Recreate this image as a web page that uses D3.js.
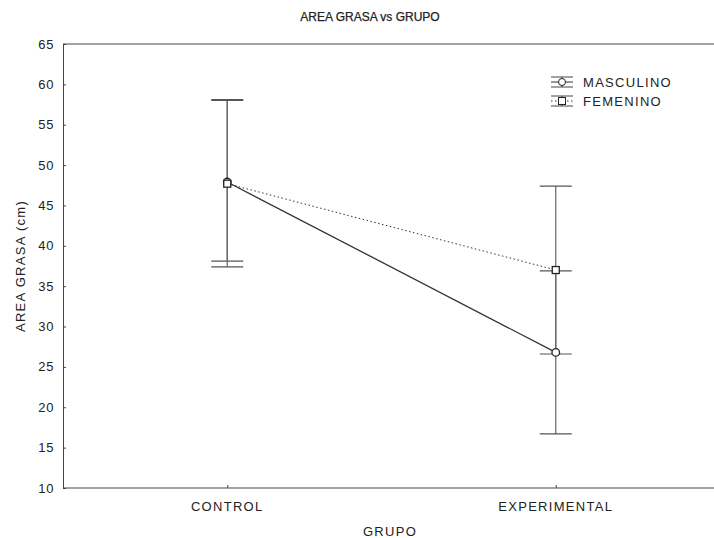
<!DOCTYPE html>
<html>
<head>
<meta charset="utf-8">
<script src="https://cdn.jsdelivr.net/npm/d3@7"></script>
<style>
  body { margin: 0; background: #fff; }
  text { font-family: "Liberation Sans", Arial, sans-serif; fill: #222; }
</style>
</head>
<body>
<svg width="714" height="538"></svg>
<script>
const groups = ["CONTROL", "EXPERIMENTAL"];
const yTicks = [10, 15, 20, 25, 30, 35, 40, 45, 50, 55, 60, 65];

// means and error bar ends
const mascMean = [47.9, 26.8];
const mascLow = [38.1, 16.7];
const mascHigh = [58.1, 36.9];

const femMean = [47.7, 37.0];
const femLow = [37.4, 26.6];
const femHigh = [58.0, 47.4];

const svg = d3.select("svg");
const margin = { left: 63, top: 44, bottom: 488, right: 720 };

const x = d3.scaleLinear().domain([0.5, 2.5]).range([margin.left, margin.right]);
const y = d3.scaleLinear().domain([10, 65]).range([margin.bottom, margin.top]);

const series = [
  { name: "MASCULINO", mean: mascMean, low: mascLow, high: mascHigh, dash: null, shape: "circle" },
  { name: "FEMENINO", mean: femMean, low: femLow, high: femHigh, dash: "1.5,2.5", shape: "square" }
];

// Title
svg.append("text")
  .attr("x", 370).attr("y", 21)
  .attr("text-anchor", "middle")
  .attr("font-size", 12)
  .attr("stroke", "#222").attr("stroke-width", 0.25)
  .text("AREA GRASA vs GRUPO");

// top frame line
svg.append("line")
  .attr("x1", margin.left).attr("x2", 714)
  .attr("y1", margin.top).attr("y2", margin.top)
  .attr("stroke", "#444").attr("stroke-width", 1);

// Y axis (ticks pointing inward)
const yAxis = svg.append("g")
  .attr("transform", `translate(${margin.left},0)`)
  .call(d3.axisRight(y).tickValues(yTicks).tickSize(3).tickFormat(""));
yAxis.select(".domain").attr("stroke", "#444");
yAxis.selectAll(".tick line").attr("stroke", "#444");

svg.append("g").selectAll("text")
  .data(yTicks)
  .join("text")
  .attr("x", margin.left - 9)
  .attr("y", d => y(d) + 4.5)
  .attr("text-anchor", "end")
  .attr("font-size", 13)
  .attr("letter-spacing", 0.6)
  .text(d => d);

// X axis
const xAxis = svg.append("g")
  .attr("transform", `translate(0,${margin.bottom})`)
  .call(d3.axisTop(x).tickValues([1, 2]).tickSize(3).tickFormat("").tickSizeOuter(0));
xAxis.select(".domain").attr("stroke", "#444").attr("d", `M${margin.left},0H714`);
xAxis.selectAll(".tick line").attr("stroke", "#444");

svg.append("g").selectAll("text")
  .data(groups)
  .join("text")
  .attr("x", (d, i) => x(i + 1))
  .attr("y", margin.bottom + 23)
  .attr("text-anchor", "middle")
  .attr("font-size", 13)
  .attr("letter-spacing", 1.3)
  .text(d => d);

// Axis titles
svg.append("text")
  .attr("x", 390).attr("y", 536)
  .attr("text-anchor", "middle")
  .attr("font-size", 13)
  .attr("letter-spacing", 1.3)
  .text("GRUPO");

svg.append("text")
  .attr("transform", `translate(25,${(margin.top + margin.bottom) / 2}) rotate(-90)`)
  .attr("text-anchor", "middle")
  .attr("font-size", 13)
  .attr("letter-spacing", 1.3)
  .text("AREA GRASA (cm)");

const capW = 16;

series.forEach(s => {
  const g = svg.append("g");
  const idx = d3.range(groups.length);

  // error bars
  g.selectAll("line.bar")
    .data(idx)
    .join("line")
    .attr("class", "bar")
    .attr("x1", i => x(i + 1)).attr("x2", i => x(i + 1))
    .attr("y1", i => y(s.low[i])).attr("y2", i => y(s.high[i]))
    .attr("stroke", "#666").attr("stroke-width", 1.2);

  g.selectAll("line.capHi")
    .data(idx)
    .join("line")
    .attr("class", "capHi")
    .attr("x1", i => x(i + 1) - capW).attr("x2", i => x(i + 1) + capW)
    .attr("y1", i => y(s.high[i])).attr("y2", i => y(s.high[i]))
    .attr("stroke", "#555").attr("stroke-width", 1.2);

  g.selectAll("line.capLo")
    .data(idx)
    .join("line")
    .attr("class", "capLo")
    .attr("x1", i => x(i + 1) - capW).attr("x2", i => x(i + 1) + capW)
    .attr("y1", i => y(s.low[i])).attr("y2", i => y(s.low[i]))
    .attr("stroke", "#555").attr("stroke-width", 1.2);

  // mean line
  g.append("path")
    .datum(idx)
    .attr("d", d3.line().x(i => x(i + 1)).y(i => y(s.mean[i])))
    .attr("fill", "none")
    .attr("stroke", "#333")
    .attr("stroke-width", s.dash ? 1 : 1.3)
    .attr("stroke-dasharray", s.dash);
});

// markers drawn last
series.forEach(s => {
  const idx = d3.range(groups.length);
  const g = svg.append("g");
  if (s.shape === "circle") {
    g.selectAll("circle").data(idx).join("circle")
      .attr("cx", i => x(i + 1)).attr("cy", i => y(s.mean[i]))
      .attr("r", 3.8)
      .attr("fill", "#fff").attr("stroke", "#222").attr("stroke-width", 1.3);
  } else {
    g.selectAll("rect").data(idx).join("rect")
      .attr("x", i => x(i + 1) - 3.5).attr("y", i => y(s.mean[i]) - 3.5)
      .attr("width", 7).attr("height", 7)
      .attr("fill", "#fff").attr("stroke", "#222").attr("stroke-width", 1.3);
  }
});

// Legend
const legend = svg.append("g").attr("transform", "translate(562,82)");
series.forEach((s, k) => {
  const row = legend.append("g").attr("transform", `translate(0,${k * 19})`);
  row.append("line").attr("x1", -11).attr("x2", 11).attr("y1", -5).attr("y2", -5)
    .attr("stroke", "#444");
  row.append("line").attr("x1", -11).attr("x2", 11).attr("y1", 5).attr("y2", 5)
    .attr("stroke", "#444");
  row.append("line").attr("x1", 0).attr("x2", 0).attr("y1", -5).attr("y2", 5)
    .attr("stroke", "#444");
  row.append("line").attr("x1", -11).attr("x2", 11).attr("y1", 0).attr("y2", 0)
    .attr("stroke", "#333").attr("stroke-dasharray", s.dash);
  if (s.shape === "circle") {
    row.append("circle").attr("r", 3.5).attr("fill", "#fff").attr("stroke", "#222");
  } else {
    row.append("rect").attr("x", -3.5).attr("y", -3.5).attr("width", 7).attr("height", 7)
      .attr("fill", "#fff").attr("stroke", "#222");
  }
  row.append("text").attr("x", 21).attr("y", 4.5)
    .attr("font-size", 13)
    .attr("letter-spacing", 1.3)
    .text(s.name);
});
</script>
</body>
</html>
